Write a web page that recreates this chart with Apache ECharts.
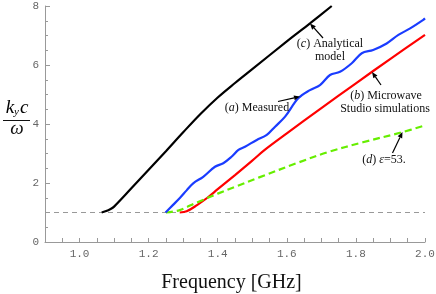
<!DOCTYPE html>
<html><head><meta charset="utf-8">
<script src="https://cdn.jsdelivr.net/npm/echarts@6/dist/echarts.min.js"></script>
<style>html,body{margin:0;padding:0;background:#fff}#c{width:436px;height:294px}</style>
</head><body><div id="c"></div>
<script>
// ---- data ----
var analyticalX = [1.064, 1.075, 1.09, 1.10, 1.15, 1.20, 1.25, 1.30, 1.35, 1.40, 1.45, 1.50, 1.60, 1.667, 1.73];
var analyticalY = [1.0, 1.04, 1.12, 1.2, 1.82, 2.45, 3.08, 3.72, 4.34, 4.90, 5.39, 5.86, 6.80, 7.41, 8.0];

var measuredX = [1.249, 1.27, 1.291, 1.31, 1.329, 1.358, 1.392, 1.416, 1.44, 1.46, 1.479, 1.513, 1.542, 1.566, 1.595, 1.633, 1.667, 1.696, 1.725, 1.754, 1.788, 1.817, 1.85, 1.889, 1.923, 1.957, 1.995, 2.0];
var measuredY = [1.0, 1.25, 1.5, 1.75, 1.99, 2.21, 2.55, 2.67, 2.89, 3.12, 3.23, 3.46, 3.63, 3.91, 4.25, 4.87, 5.15, 5.32, 5.66, 5.77, 6.06, 6.4, 6.51, 6.73, 7.02, 7.24, 7.53, 7.58];

var simX = [1.29, 1.31, 1.34, 1.37, 1.40, 1.45, 1.50, 1.536, 1.60, 1.70, 1.80, 1.90, 2.00];
var simY = [1.0, 1.04, 1.25, 1.5, 1.79, 2.27, 2.76, 3.12, 3.68, 4.54, 5.38, 6.21, 7.02];

var epsX = [1.25, 1.27, 1.29, 1.31, 1.33, 1.36, 1.40, 1.45, 1.52, 1.63, 1.72, 1.82, 1.93, 2.00];
var epsY = [1.0, 1.03, 1.08, 1.18, 1.29, 1.44, 1.64, 1.87, 2.19, 2.68, 3.05, 3.38, 3.71, 3.95];

var lightLineX = [0.9, 2.0];
var lightLineY = [1, 1];

var xTickLabels = [1.0, 1.2, 1.4, 1.6, 1.8, 2.0];
var xTicks = [0.95, 1.0, 1.05, 1.1, 1.15, 1.2, 1.25, 1.3, 1.35, 1.4, 1.45, 1.5, 1.55, 1.6, 1.65, 1.7, 1.75, 1.8, 1.85, 1.9, 1.95, 2.0];
var yTickLabels = [0, 2, 4, 6, 8];

function zip(a, b) { return a.map(function (v, i) { return [v, b[i]]; }); }

var chart = echarts.init(document.getElementById('c'), null, {renderer: 'canvas'});

function arrow(tailX, tailY, tipX, tipY) {
  var dx = tipX - tailX, dy = tipY - tailY, L = Math.sqrt(dx*dx + dy*dy);
  var ux = dx / L, uy = dy / L, hl = 6, hw = 2.5;
  var bx = tipX - ux * hl, by = tipY - uy * hl;
  return [
    {type: 'line', shape: {x1: tailX, y1: tailY, x2: bx, y2: by}, style: {stroke: '#000', lineWidth: 1.2}, z: 100},
    {type: 'polygon', shape: {points: [[tipX, tipY], [bx - uy * hw, by + ux * hw], [bx + uy * hw, by - ux * hw]]}, style: {fill: '#000'}, z: 100}
  ];
}

var serif = '"Liberation Serif", "Times New Roman", serif';
var richAnno = {
  n: {fontFamily: serif, fontSize: 12, color: '#111'},
  i: {fontFamily: serif, fontSize: 12, fontStyle: 'italic', color: '#111'}
};
function txt(x, y, str, align) {
  return {type: 'text', x: x, y: y, z: 100,
    style: {text: str, rich: richAnno, fontFamily: serif, fontSize: 12, fill: '#111', align: align || 'center', verticalAlign: 'middle'}};
}

var graphics = [];
graphics = graphics.concat(arrow(323, 38, 310, 23.5));
graphics = graphics.concat(arrow(278, 101.5, 300, 96.5));
graphics = graphics.concat(arrow(381, 85, 372, 72));
graphics = graphics.concat(arrow(392.5, 153, 402.5, 132));
graphics.push(txt(330, 43.5, '{n|(}{i|c}{n|) Analytical}'));
graphics.push(txt(330, 56.5, '{n|model}'));
graphics.push(txt(257, 108, '{n|(}{i|a}{n|) Measured}'));
graphics.push(txt(386, 95.5, '{n|(}{i|b}{n|) Microwave}'));
graphics.push(txt(385, 108.5, '{n|Studio simulations}'));
graphics.push(txt(384, 159.5, '{n|(}{i|d}{n|) }{i|ε}{n|=53.}'));
// y axis label (fraction)
graphics.push({type: 'text', x: 17, y: 108, z: 100, style: {
  text: '{k|k}{s|y}{k|c}', align: 'center', verticalAlign: 'middle',
  rich: {k: {fontFamily: serif, fontStyle: 'italic', fontSize: 19, color: '#111'},
         s: {fontFamily: serif, fontStyle: 'italic', fontSize: 11, color: '#111', padding: [9, 1, 0, 0]}}}});
graphics.push({type: 'line', z: 100, shape: {x1: 3, y1: 120.5, x2: 30, y2: 120.5}, style: {stroke: '#111', lineWidth: 1}});
graphics.push({type: 'text', x: 17, y: 129, z: 100, style: {text: 'ω', fontFamily: serif, fontStyle: 'italic', fontSize: 19, fill: '#111', align: 'center', verticalAlign: 'middle'}});

var mono = '"Liberation Mono", "Courier New", monospace';
var option = {
  animation: false,
  grid: {left: 45, right: 11, top: 6, bottom: 52, outerBoundsMode: 'none', containLabel: false},
  xAxis: {
    type: 'value', min: 0.9, max: 2.0,
    name: 'Frequency [GHz]', nameLocation: 'middle', nameGap: 31,
    nameTextStyle: {fontFamily: serif, fontSize: 20, color: '#111', padding: [0, 7, 0, 0]},
    axisLine: {lineStyle: {color: '#999', width: 1}},
    axisTick: {inside: true, length: 4, customValues: xTicks, lineStyle: {color: '#999'}},
    axisLabel: {customValues: xTickLabels, fontFamily: mono, fontSize: 11, color: '#666', margin: 7,
      formatter: function (v) { return Number(v).toFixed(1); }},
    splitLine: {show: false}
  },
  yAxis: {
    type: 'value', min: 0, max: 8, interval: 2,
    axisLine: {show: true, lineStyle: {color: '#999', width: 1}},
    axisTick: {show: true, inside: true, length: 5, lineStyle: {color: '#999'}},
    minorTick: {show: true, splitNumber: 4, length: 3, lineStyle: {color: '#999'}},
    axisLabel: {fontFamily: mono, fontSize: 11, color: '#666', margin: 6},
    splitLine: {show: false}
  },
  series: [
    {type: 'line', data: zip(lightLineX, lightLineY), symbol: 'none', silent: true,
      lineStyle: {color: '#999', width: 1, type: [5, 4]}, z: 1},
    {type: 'line', data: zip(analyticalX, analyticalY), symbol: 'none', smooth: 0.35,
      lineStyle: {color: '#000', width: 2.2}},
    {type: 'line', data: zip(simX, simY), symbol: 'none', smooth: 0.35,
      lineStyle: {color: '#ff0000', width: 2.2}},
    {type: 'line', data: zip(epsX, epsY), symbol: 'none', smooth: 0.35,
      lineStyle: {color: '#66ee00', width: 2.2, type: [7, 4]}},
    {type: 'line', data: zip(measuredX, measuredY), symbol: 'none', smooth: 0.35,
      lineStyle: {color: '#1a3cff', width: 2.2}}
  ],
  graphic: graphics
};
chart.setOption(option);
</script>
</body></html>
